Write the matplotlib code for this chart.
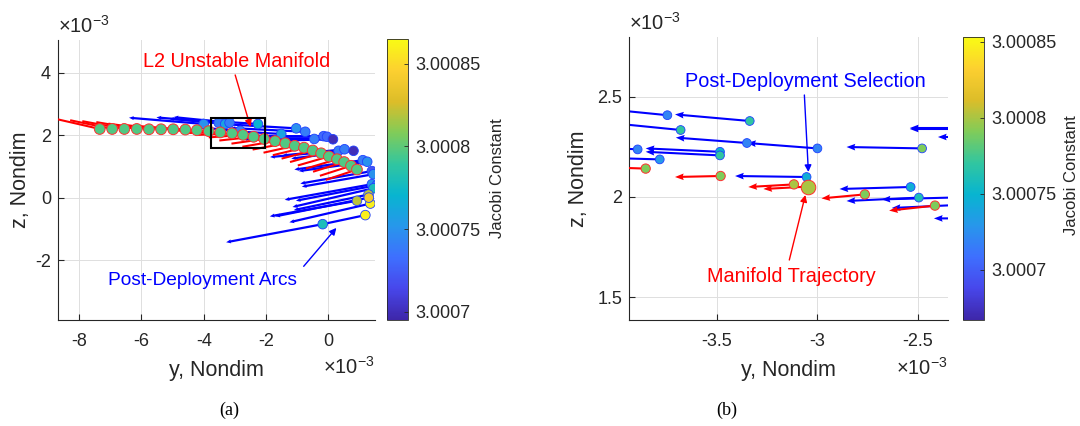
import numpy as np
import matplotlib
matplotlib.use('Agg')
import matplotlib.pyplot as plt
from matplotlib.colors import LinearSegmentedColormap, Normalize
from matplotlib.patches import Rectangle
from matplotlib.colorbar import ColorbarBase

plt.rcParams['font.family'] = ['Liberation Sans', 'DejaVu Sans']
plt.rcParams['axes.unicode_minus'] = False
plt.rcParams['mathtext.fontset'] = 'custom'
plt.rcParams['mathtext.rm'] = 'Liberation Sans'
plt.rcParams['mathtext.it'] = 'Liberation Sans:italic'
plt.rcParams['mathtext.bf'] = 'Liberation Sans:bold'

# ---------------- data (positions in units of 1e-3 nondim) ----------------
# Panel (a): L2 unstable manifold points and their velocity vectors
man_y = [-7.34, -6.94, -6.55, -6.15, -5.76, -5.37, -4.98, -4.59, -4.22, -3.84, -3.47, -3.09, -2.74,
         -2.40, -2.06, -1.71, -1.38, -1.08, -0.78, -0.50, -0.23, 0.02, 0.28, 0.51, 0.73, 0.92]
man_z = [2.20, 2.20, 2.20, 2.20, 2.19, 2.19, 2.19, 2.18, 2.16, 2.13, 2.09, 2.06, 2.01,
         1.95, 1.88, 1.81, 1.74, 1.66, 1.60, 1.51, 1.42, 1.32, 1.23, 1.14, 1.02, 0.90]
man_u = [-1.40, -1.35, -1.35, -1.30, -1.30, -1.25, -1.25, -1.20, -1.20, -1.15, -1.15, -1.10, -1.10,
         -1.10, -1.05, -1.05, -1.05, -1.00, -1.00, -1.00, -1.00, -1.00, -1.00, -1.00, -1.00, -1.00]
man_v = [0.32, 0.28, 0.25, 0.22, 0.18, 0.15, 0.12, 0.08, 0.05, 0.02, -0.02, -0.05, -0.08,
         -0.12, -0.15, -0.18, -0.20, -0.22, -0.24, -0.26, -0.28, -0.29, -0.30, -0.31, -0.32, -0.33]
man_c = [3.000797] * 26

# Panel (a): post-deployment arcs (end points, vectors, Jacobi constants)
pd_y = [-4.00, -3.52, -3.31, -3.17, -2.26, -2.83, -1.03, -0.74, -1.51, -0.45, -0.15, -0.04, 0.15,
        0.33, 0.52, 0.81, 1.11, 1.25, 1.40, 1.45, 1.40, 1.56, 1.45, 1.29, 0.92, 1.35, 1.30, 1.19, -0.18]
pd_z = [2.36, 2.40, 2.36, 2.40, 2.36, 2.14, 2.22, 2.11, 2.04, 1.88, 1.97, 1.95, 1.87,
        1.50, 1.55, 1.50, 1.20, 1.15, 0.85, 0.75, 0.43, 0.40, 0.30, 0.10, -0.10, -0.19, 0.00, -0.56, -0.85]
pd_u = [-2.4, -2.0, -1.8, -1.8, -1.9, -1.5, -2.6, -2.4, -1.8, -2.3, -2.2, -2.0, -2.0,
        -2.2, -2.0, -2.0, -2.2, -2.2, -2.3, -2.3, -2.8, -2.6, -2.6, -2.4, -2.8, -2.6, -3.0, -1.37, -3.1]
pd_v = [0.20, 0.17, 0.17, 0.18, 0.12, 0.12, 0.15, 0.12, 0.10, 0.00, 0.00, 0.00, -0.05,
        -0.20, -0.20, -0.25, -0.30, -0.30, -0.40, -0.40, -0.50, -0.50, -0.60, -0.50, -0.50, -0.60, -0.60, -0.29, -0.58]
pd_c = [3.00075, 3.00074, 3.00076, 3.00074, 3.00077, 3.00074, 3.00075, 3.00074, 3.00076, 3.00074, 3.00073,
        3.00073, 3.00070, 3.00074, 3.00074, 3.00070, 3.00074, 3.00075, 3.00072, 3.00075, 3.00075, 3.00074,
        3.00078, 3.00082, 3.00082, 3.00086, 3.00084, 3.00086, 3.00078]

# Panel (b): zoomed manifold points
zm_y = [-3.855, -3.482, -3.117, -2.764, -2.415]
zm_z = [2.142, 2.105, 2.063, 2.013, 1.957]
zm_u = [-0.30, -0.227, -0.227, -0.216, -0.228]
zm_v = [0.010, -0.005, -0.013, -0.020, -0.025]
zm_c = [3.00079, 3.00079, 3.00080, 3.00079, 3.00079]
# selected manifold trajectory point
sel_y = [-3.049]
sel_z = [2.052]
sel_u = [-0.22]
sel_v = [-0.012]
sel_c = [3.00080]

# Panel (b): zoomed post-deployment points
zp_y = [-3.747, -3.337, -3.681, -3.351, -3.000, -2.479, -3.895, -3.485, -3.485, -3.785, -3.054, -2.536, -2.495,
        -2.20, -2.25, -2.20, -2.30, -2.20, -2.20]
zp_z = [2.409, 2.380, 2.335, 2.270, 2.243, 2.243, 2.238, 2.226, 2.208, 2.188, 2.100, 2.050, 1.997,
        2.345, 2.340, 2.300, 1.998, 1.965, 1.893]
zp_u = [-0.40, -0.372, -0.40, -0.354, -0.35, -0.376, -0.35, -0.37, -0.37, -0.35, -0.356, -0.354, -0.36,
        -0.34, -0.29, -0.20, -0.38, -0.43, -0.22]
zp_v = [0.04, 0.033, 0.04, 0.027, 0.027, 0.007, 0.02, 0.017, 0.018, 0.01, 0.005, -0.01, -0.017,
        0.0, 0.0, 0.0, -0.01, -0.02, 0.0]
zp_c = [3.00072, 3.00077, 3.00077, 3.00072, 3.00072, 3.00079, 3.00072, 3.00075, 3.00077, 3.00073, 3.000745,
        3.000745, 3.00076, 3.00075, 3.00075, 3.00075, 3.00075, 3.00075, 3.00075]

box = (-3.77, 1.58, 1.74, 0.97)   # zoom window drawn in (a): y0, z0, width, height

cb1_ticks = [3.0007, 3.00075, 3.0008, 3.00085]
cb1_labels = ['3.0007', '3.00075', '3.0008', '3.00085']
cb1_lim = (3.000695, 3.000865)
cb2_lim = (3.000667, 3.000853)

# ---------------- colormap (parula approximation) ----------------
parula_pts = [(0.2422, 0.1504, 0.6603), (0.2803, 0.2782, 0.9221), (0.2440, 0.4358, 0.9988),
              (0.1540, 0.5902, 0.9218), (0.0297, 0.7082, 0.8163), (0.1938, 0.7758, 0.6251),
              (0.5044, 0.7993, 0.3480), (0.8634, 0.7406, 0.1596), (0.9892, 0.8136, 0.1885),
              (0.9769, 0.9839, 0.0805)]
parula = LinearSegmentedColormap.from_list('parula', parula_pts, N=256)

TXT = (0.15, 0.15, 0.15)
GRID = (0.87, 0.87, 0.87)

fig = plt.figure(figsize=(10.8, 4.26), dpi=100)
H = 426.0
W = 1080.0

def rect(l, t, r, b):
    return [l / W, 1 - b / H, (r - l) / W, (b - t) / H]

ax1 = fig.add_axes(rect(58, 40, 375, 320))
cax1 = fig.add_axes(rect(387, 39, 408, 320))
ax2 = fig.add_axes(rect(629, 37, 948, 320))
cax2 = fig.add_axes(rect(963, 37, 984, 320))

def style(ax):
    for s in ['top', 'right']:
        ax.spines[s].set_visible(False)
    for s in ['left', 'bottom']:
        ax.spines[s].set_color(TXT)
        ax.spines[s].set_linewidth(0.8)
    ax.tick_params(direction='in', length=4, width=0.8, colors=TXT, labelsize=13)
    ax.tick_params(axis='x', pad=9)
    ax.tick_params(axis='y', pad=5)
    ax.grid(True, color=GRID, lw=0.7)
    ax.set_axisbelow(True)

# ---------------- panel (a) ----------------
norm1 = Normalize(*cb1_lim)
ax1.quiver(pd_y, pd_z, pd_u, pd_v, angles='xy', scale_units='xy', scale=1, color='#0000ff',
           width=0.007, headwidth=1.8, headlength=2.2, headaxislength=2.0, zorder=2)
ax1.quiver(man_y, man_z, man_u, man_v, angles='xy', scale_units='xy', scale=1, color='#ff0000',
           width=0.0065, headwidth=1, headlength=0.01, headaxislength=0.01, zorder=3)
ax1.scatter(pd_y, pd_z, c=pd_c, cmap=parula, norm=norm1, s=48, edgecolors='#2040ff', linewidths=0.6, zorder=4)
ax1.scatter(man_y, man_z, c=man_c, cmap=parula, norm=norm1, s=60, edgecolors='#ff3030', linewidths=0.7, zorder=5)
ax1.add_patch(Rectangle((box[0], box[1]), box[2], box[3], fill=False, ec='k', lw=1.5, zorder=6))

ax1.set_xlim(-8.68, 1.5)
ax1.set_ylim(-3.92, 5.05)
ax1.set_xticks([-8, -6, -4, -2, 0])
ax1.set_yticks([-2, 0, 2, 4])
style(ax1)
ax1.set_xlabel('y, Nondim', fontsize=15.5, color=TXT)
ax1.xaxis.set_label_coords(0.5, -0.143)
ax1.set_ylabel('z, Nondim', fontsize=15.5, color=TXT)
ax1.yaxis.set_label_coords(-0.085, 0.5)

ax1.text(-2.93, 4.35, 'L2 Unstable Manifold', color='#ff0000', fontsize=14.3, ha='center', va='center')
ax1.annotate('', xy=(-2.5, 2.27), xytext=(-2.99, 3.93),
             arrowprops=dict(arrowstyle='-|>', color='#ff0000', lw=1.0, mutation_scale=10, shrinkA=0, shrinkB=0))
ax1.text(-4.03, -2.64, 'Post-Deployment Arcs', color='#0000ff', fontsize=13.8, ha='center', va='center')
ax1.annotate('', xy=(0.26, -0.97), xytext=(-0.79, -2.2),
             arrowprops=dict(arrowstyle='-|>', color='#0000ff', lw=1.0, mutation_scale=10, shrinkA=0, shrinkB=0))

ax1.text(0.0, 1.01, r'$\times10^{-3}$', transform=ax1.transAxes, fontsize=14.5, color=TXT, ha='left', va='bottom')
ax1.text(1.0, -0.13, r'$\times10^{-3}$', transform=ax1.transAxes, fontsize=14.5, color=TXT, ha='right', va='top')

# ---------------- panel (b) ----------------
norm2 = Normalize(*cb2_lim)
kw = dict(angles='xy', scale_units='xy', scale=1, width=0.0065, headwidth=3.2, headlength=4.2, headaxislength=3.8)
ax2.quiver(zp_y, zp_z, zp_u, zp_v, color='#0000ff', zorder=2, **kw)
ax2.quiver(zm_y + sel_y, zm_z + sel_z, zm_u + sel_u, zm_v + sel_v, color='#ff0000', zorder=3, **kw)
ax2.scatter(zp_y, zp_z, c=zp_c, cmap=parula, norm=norm2, s=40, edgecolors='#2040ff', linewidths=0.6, zorder=4)
ax2.scatter(zm_y, zm_z, c=zm_c, cmap=parula, norm=norm2, s=45, edgecolors='#ff3030', linewidths=0.7, zorder=5)
ax2.scatter(sel_y, sel_z, c=sel_c, cmap=parula, norm=norm2, s=110, edgecolors='#ff3030', linewidths=0.7, zorder=6)

ax2.set_xlim(-3.938, -2.35)
ax2.set_ylim(1.385, 2.8)
ax2.set_xticks([-3.5, -3.0, -2.5])
ax2.set_xticklabels(['-3.5', '-3', '-2.5'])
ax2.set_yticks([1.5, 2.0, 2.5])
ax2.set_yticklabels(['1.5', '2', '2.5'])
style(ax2)
ax2.set_xlabel('y, Nondim', fontsize=15.5, color=TXT)
ax2.xaxis.set_label_coords(0.5, -0.143)
ax2.set_ylabel('z, Nondim', fontsize=15.5, color=TXT)
ax2.yaxis.set_label_coords(-0.125, 0.5)

ax2.text(-3.06, 2.575, 'Post-Deployment Selection', color='#0000ff', fontsize=14.3, ha='center', va='center')
ax2.annotate('', xy=(-3.045, 2.125), xytext=(-3.065, 2.51),
             arrowprops=dict(arrowstyle='-|>', color='#0000ff', lw=1.0, mutation_scale=10, shrinkA=0, shrinkB=0))
ax2.text(-3.13, 1.605, 'Manifold Trajectory', color='#ff0000', fontsize=14.3, ha='center', va='center')
ax2.annotate('', xy=(-3.06, 2.01), xytext=(-3.14, 1.685),
             arrowprops=dict(arrowstyle='-|>', color='#ff0000', lw=1.0, mutation_scale=10, shrinkA=0, shrinkB=0))

ax2.text(0.0, 1.01, r'$\times10^{-3}$', transform=ax2.transAxes, fontsize=14.5, color=TXT, ha='left', va='bottom')
ax2.text(1.0, -0.13, r'$\times10^{-3}$', transform=ax2.transAxes, fontsize=14.5, color=TXT, ha='right', va='top')

# ---------------- colorbars ----------------
for cax, nrm in [(cax1, norm1), (cax2, norm2)]:
    cb = ColorbarBase(cax, cmap=parula, norm=nrm)
    cb.set_ticks(cb1_ticks)
    cb.set_ticklabels(cb1_labels)
    cb.outline.set_edgecolor(TXT)
    cb.outline.set_linewidth(0.6)
    cax.tick_params(direction='in', length=3, width=0.6, colors=TXT, labelsize=13, pad=5)

fig.text(497 / W, 1 - 178 / H, 'Jacobi Constant', rotation=90, ha='center', va='center', fontsize=12, color=TXT)
fig.text(1072 / W, 1 - 175 / H, 'Jacobi Constant', rotation=90, ha='center', va='center', fontsize=12, color=TXT)

fig.text(229 / W, 1 - 410 / H, '(a)', family='Liberation Serif', fontsize=13, ha='center', va='center')
fig.text(727 / W, 1 - 410 / H, '(b)', family='Liberation Serif', fontsize=13, ha='center', va='center')

fig.savefig('out.png', dpi=100)
